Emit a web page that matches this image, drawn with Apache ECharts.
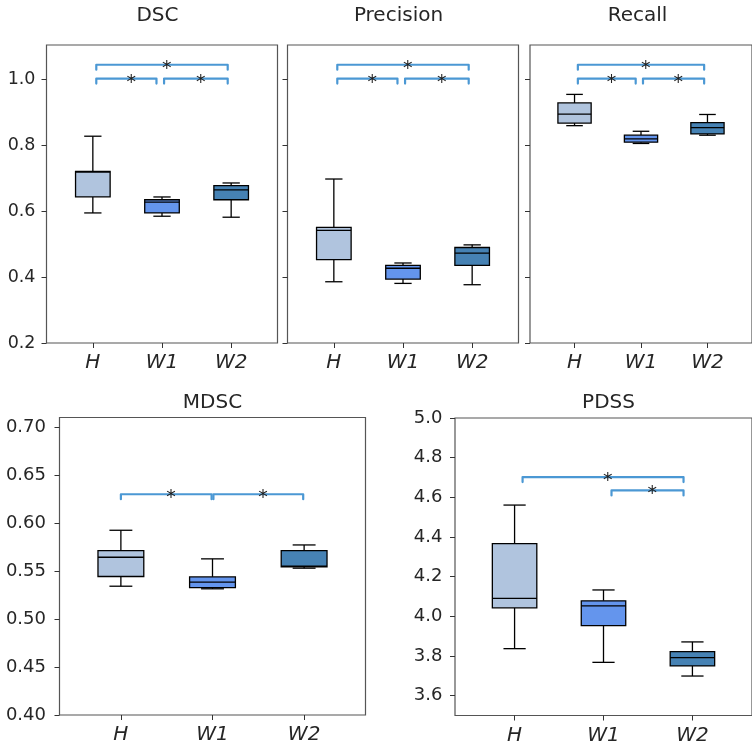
<!DOCTYPE html>
<html><head><meta charset="utf-8">
<script src="https://cdn.jsdelivr.net/npm/echarts@6/dist/echarts.min.js"></script>
<style>html,body{margin:0;padding:0;background:#fff}#c{width:752px;height:747px}</style>
</head><body><div id="c"></div>
<script>
// ---------------- data ----------------
const categories = ['H', 'W1', 'W2'];
const xTicks = [1, 2, 3];
// each row: [min, Q1, median, Q3, max]
const dscStats = [[0.595, 0.6435, 0.719, 0.7215, 0.828], [0.585, 0.595, 0.628, 0.635, 0.6435], [0.582, 0.635, 0.665, 0.678, 0.686]];
const precisionStats = [[0.386, 0.453, 0.542, 0.551, 0.698], [0.381, 0.394, 0.427, 0.436, 0.443], [0.377, 0.436, 0.473, 0.490, 0.498]];
const recallStats = [[0.860, 0.868, 0.895, 0.929, 0.955], [0.806, 0.810, 0.820, 0.831, 0.843], [0.831, 0.835, 0.854, 0.869, 0.894]];
const mdscStats = [[0.5342, 0.5443, 0.5644, 0.5713, 0.5925], [0.5315, 0.5328, 0.5384, 0.5439, 0.5627], [0.5530, 0.5544, 0.5550, 0.5713, 0.5772]];
const pdssStats = [[3.837, 4.043, 4.091, 4.367, 4.561], [3.768, 3.953, 4.053, 4.078, 4.133], [3.699, 3.750, 3.792, 3.822, 3.871]];
// significance brackets: [from, to, level]
const dscBrackets = [[1.05, 1.92, 1.003], [2.03, 2.95, 1.003], [1.05, 2.95, 1.045]];
const precisionBrackets = [[1.05, 1.92, 1.003], [2.03, 2.95, 1.003], [1.05, 2.95, 1.045]];
const recallBrackets = [[1.05, 1.92, 1.003], [2.03, 2.95, 1.003], [1.05, 2.95, 1.045]];
const mdscBrackets = [[1.0, 1.99, 0.630], [2.01, 2.99, 0.630]];
const pdssBrackets = [[1.09, 2.90, 4.702], [2.09, 2.90, 4.635]];
// tick labels
const topYTicks = [0.2, 0.4, 0.6, 0.8, 1.0];
const mdscYTicks = [0.40, 0.45, 0.50, 0.55, 0.60, 0.65, 0.70];
const pdssYTicks = [3.6, 3.8, 4.0, 4.2, 4.4, 4.6, 4.8, 5.0];
const titles = ['DSC', 'Precision', 'Recall', 'MDSC', 'PDSS'];

// ---------------- styling / layout ----------------
const FONT = 'DejaVu Sans';
const boxColors = ['#B0C4DE', '#6495ED', '#4682B4'];
const bracketColor = '#4b98d4';
const textColor = '#262626';

const panels = [
  {title: titles[0], stats: dscStats, brackets: dscBrackets, yMin: 0.2, yMax: 1.105, yTicks: topYTicks, dec: 1, showY: true,
   grid: {left: 46.5, top: 45, width: 231, height: 298}, tx: 157.5, ty: 16, fs: 17.5, mg: 11},
  {title: titles[1], stats: precisionStats, brackets: precisionBrackets, yMin: 0.2, yMax: 1.105, yTicks: topYTicks, dec: 1, showY: false,
   grid: {left: 287.5, top: 45, width: 231, height: 298}, tx: 398.5, ty: 16, fs: 17.5, mg: 11},
  {title: titles[2], stats: recallStats, brackets: recallBrackets, yMin: 0.2, yMax: 1.105, yTicks: topYTicks, dec: 1, showY: false,
   grid: {left: 530, top: 45, width: 231, height: 298}, tx: 637.5, ty: 16, fs: 17.5, mg: 11},
  {title: titles[3], stats: mdscStats, brackets: mdscBrackets, yMin: 0.40, yMax: 0.71, yTicks: mdscYTicks, dec: 2, showY: true,
   grid: {left: 59.5, top: 417.5, width: 306, height: 297.5}, tx: 212.5, ty: 402.5, fs: 18, mg: 13.5},
  {title: titles[4], stats: pdssStats, brackets: pdssBrackets, yMin: 3.5, yMax: 5.0, yTicks: pdssYTicks, dec: 1, showY: true,
   grid: {left: 455, top: 418, width: 306, height: 297.5}, tx: 608.5, ty: 402.5, fs: 18, mg: 12.5}
];

function renderBox(params, api) {
  const x = api.value(0);
  const p = [1, 2, 3, 4, 5].map(d => api.coord([x, api.value(d)]));
  const cx = p[0][0];
  const w = api.size([0.5, 0])[0];
  const cap = w / 2;
  const st = {stroke: '#000', lineWidth: 1.3, fill: null};
  return {type: 'group', children: [
    {type: 'line', shape: {x1: cx, y1: p[0][1], x2: cx, y2: p[1][1]}, style: st},
    {type: 'line', shape: {x1: cx, y1: p[3][1], x2: cx, y2: p[4][1]}, style: st},
    {type: 'line', shape: {x1: cx - cap / 2, y1: p[0][1], x2: cx + cap / 2, y2: p[0][1]}, style: st},
    {type: 'line', shape: {x1: cx - cap / 2, y1: p[4][1], x2: cx + cap / 2, y2: p[4][1]}, style: st},
    {type: 'rect', shape: {x: cx - w / 2, y: p[3][1], width: w, height: p[1][1] - p[3][1]},
     style: {fill: boxColors[params.dataIndex], stroke: '#000', lineWidth: 1.3}},
    {type: 'line', shape: {x1: cx - w / 2, y1: p[2][1], x2: cx + w / 2, y2: p[2][1]}, style: st}
  ]};
}

function renderBracket(params, api) {
  const a = api.coord([api.value(0), api.value(2)]);
  const b = api.coord([api.value(1), api.value(2)]);
  const leg = 5;
  return {type: 'group', children: [
    {type: 'polyline', shape: {points: [[a[0], a[1] + leg], [a[0], a[1]], [b[0], b[1]], [b[0], b[1] + leg]]},
     style: {stroke: bracketColor, lineWidth: 2.2, lineJoin: 'round', lineCap: 'round', fill: null}},
    {type: 'text', x: (a[0] + b[0]) / 2, y: a[1] + 4,
     style: {text: '*', fill: '#222', font: '19px "' + FONT + '"', align: 'left', verticalAlign: 'middle'}}
  ]};
}

const grid = [], xAxis = [], yAxis = [], series = [], graphic = [];
panels.forEach((pn, i) => {
  grid.push(Object.assign({show: true, borderColor: '#555', borderWidth: 1.2, backgroundColor: 'transparent'}, pn.grid));
  xAxis.push({
    type: 'value', gridIndex: i, min: 0.33, max: 3.67,
    axisLine: {show: false}, splitLine: {show: false},
    axisTick: {show: true, customValues: xTicks, length: 5, lineStyle: {color: '#333'}},
    axisLabel: {show: true, customValues: xTicks, margin: 10, fontFamily: FONT, fontSize: 20, fontStyle: 'italic', color: textColor,
      formatter: v => categories[Math.round(v) - 1]}
  });
  yAxis.push({
    type: 'value', gridIndex: i, min: pn.yMin, max: pn.yMax,
    axisLine: {show: false}, splitLine: {show: false},
    axisTick: {show: true, customValues: pn.yTicks, length: 5, lineStyle: {color: '#333'}},
    axisLabel: {show: pn.showY, customValues: pn.yTicks, margin: pn.mg, fontFamily: FONT, fontSize: pn.fs, color: textColor,
      formatter: v => v.toFixed(pn.dec)}
  });
  series.push({
    type: 'custom', xAxisIndex: i, yAxisIndex: i, renderItem: renderBox, z: 2,
    encode: {x: 0, y: [1, 2, 3, 4, 5]},
    data: pn.stats.map((s, k) => [xTicks[k]].concat(s))
  });
  series.push({
    type: 'custom', xAxisIndex: i, yAxisIndex: i, renderItem: renderBracket, z: 3,
    encode: {x: [0, 1], y: 2},
    data: pn.brackets
  });
  graphic.push({type: 'text', x: pn.tx, y: pn.ty,
    style: {text: pn.title, fill: textColor, font: '20px "' + FONT + '"', align: 'center', verticalAlign: 'middle'}});
});

const chart = echarts.init(document.getElementById('c'), null, {renderer: 'canvas'});
chart.setOption({animation: false, backgroundColor: '#fff', grid, xAxis, yAxis, series, graphic});
</script></body></html>
